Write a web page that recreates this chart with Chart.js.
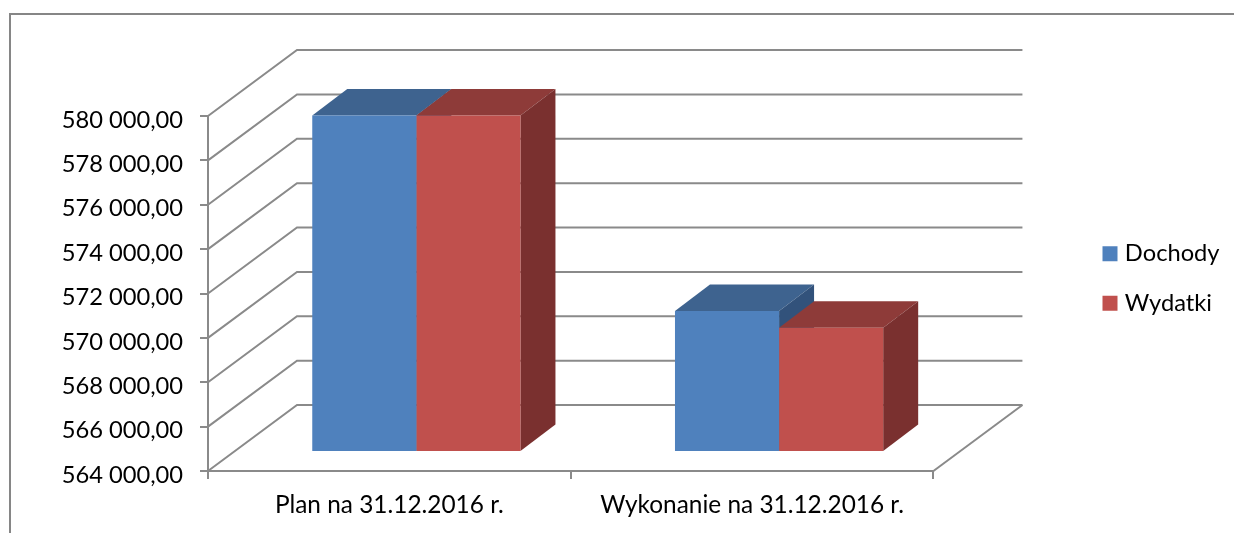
<!DOCTYPE html>
<html>
<head>
<meta charset="utf-8">
<style>
  html, body { margin: 0; padding: 0; background: #fff; }
  #wrap { width: 1234px; height: 533px; }
</style>
<script src="https://cdn.jsdelivr.net/npm/chart.js@4/dist/chart.umd.min.js"></script>
</head>
<body>
<div id="wrap"><canvas id="chart-area" width="1234" height="533"></canvas></div>
<script>
// Dane
var categories = ['Plan na 31.12.2016 r.', 'Wykonanie na 31.12.2016 r.'];
var dochody = [579165, 570350];
var wydatki = [579165, 569600];
var seriesNames = ['Dochody', 'Wydatki'];

var frontColors = ['#4f81bd', '#c0504d'];
var topColors = ['#3e638f', '#8e3b39'];
var sideColors = ['#32527b', '#7a302f'];
var lineColor = '#8a8a8a';

// przesuniecia perspektywy
var wallX = 89, wallY = 66;     // tylna sciana
var barX = 27, barY = 19;       // przednia sciana slupkow
var depthX = 35, depthY = 26.5; // glebokosc slupka

function face(ctx, color, pts) {
  ctx.fillStyle = color;
  ctx.beginPath();
  ctx.moveTo(pts[0][0], pts[0][1]);
  for (var i = 1; i < pts.length; i++) ctx.lineTo(pts[i][0], pts[i][1]);
  ctx.closePath();
  ctx.fill();
}

var frame3d = {
  id: 'frame3d',
  beforeDraw: function(chart) {
    var ctx = chart.ctx;
    ctx.save();
    ctx.strokeStyle = '#868686';
    ctx.lineWidth = 2;
    ctx.beginPath();
    ctx.moveTo(10, 533);
    ctx.lineTo(10, 14);
    ctx.lineTo(1234, 14);
    ctx.stroke();
    ctx.restore();
  },
  beforeDatasetsDraw: function(chart) {
    var ctx = chart.ctx, a = chart.chartArea, y = chart.scales.y;
    ctx.save();
    ctx.strokeStyle = lineColor;
    ctx.lineWidth = 2;
    y.ticks.forEach(function(t) {
      var py = y.getPixelForValue(t.value);
      ctx.beginPath();
      ctx.moveTo(a.left, py);
      ctx.lineTo(a.left + wallX, py - wallY);
      ctx.lineTo(a.right + wallX, py - wallY);
      ctx.stroke();
    });
    ctx.beginPath();
    ctx.moveTo(a.right, a.bottom);
    ctx.lineTo(a.right + wallX, a.bottom - wallY);
    ctx.stroke();
    ctx.restore();

    // gorne i boczne sciany slupkow, przod rysuje biblioteka
    ctx.save();
    ctx.translate(barX, -barY);
    chart.data.datasets.forEach(function(ds, i) {
      chart.getDatasetMeta(i).data.forEach(function(bar) {
        var l = bar.x - bar.width / 2, r = bar.x + bar.width / 2;
        face(ctx, topColors[i], [[l, bar.y], [r, bar.y], [r + depthX, bar.y - depthY], [l + depthX, bar.y - depthY]]);
        face(ctx, sideColors[i], [[r, bar.y], [r + depthX, bar.y - depthY], [r + depthX, bar.base - depthY], [r, bar.base]]);
      });
    });
    ctx.restore();

    ctx.save();
    ctx.translate(barX, -barY);
  },
  afterDatasetsDraw: function(chart) {
    chart.ctx.restore();
  },
  afterLayout: function(chart) {
    // legenda przesunieta na prawo od tylnej sciany
    var lg = chart.legend;
    var w = lg.right - lg.left, h = lg.bottom - lg.top;
    lg.left = 1081;
    lg.right = 1081 + w;
    lg.top = 70;
    lg.bottom = 70 + h;
  }
};

var font = { family: 'Lato', size: 23.7 };
var xFont = { family: 'Lato', size: 24.4 };

var config = {
  type: 'bar',
  data: {
    labels: categories,
    datasets: [
      { label: seriesNames[0], data: dochody, base: 564000, backgroundColor: frontColors[0], borderWidth: 0, clip: false },
      { label: seriesNames[1], data: wydatki, base: 564000, backgroundColor: frontColors[1], borderWidth: 0, clip: false }
    ]
  },
  options: {
    responsive: false,
    animation: false,
    layout: { padding: { top: 116, right: 152, bottom: 0, left: 0 } },
    datasets: { bar: { categoryPercentage: 0.574, barPercentage: 1 } },
    scales: {
      x: {
        afterFit: function(s) { s.height = 62; },
        grid: { drawOnChartArea: false, color: lineColor, lineWidth: 2, tickLength: 8 },
        border: { color: lineColor, width: 2 },
        ticks: { color: '#000', font: xFont, padding: 12, maxRotation: 0 }
      },
      y: {
        min: 564000,
        max: 580000,
        afterFit: function(s) { s.width = 208; },
        grid: { drawOnChartArea: false, color: lineColor, lineWidth: 2, tickLength: 8 },
        border: { color: lineColor, width: 2 },
        ticks: {
          stepSize: 2000,
          color: '#000',
          font: font,
          padding: 17,
          labelOffset: 4,
          callback: function(v) {
            return Math.floor(v / 1000) + ' ' + ('00' + (v % 1000)).slice(-3) + ',00';
          }
        }
      }
    },
    plugins: {
      tooltip: { enabled: false },
      title: { display: false },
      legend: {
        position: 'right',
        labels: {
          usePointStyle: true,
          pointStyle: 'rect',
          boxWidth: 6,
          boxHeight: 15,
          padding: 26,
          color: '#000',
          font: font
        }
      }
    }
  },
  plugins: [frame3d]
};

window.myBar = new Chart(document.getElementById('chart-area').getContext('2d'), config);
</script>
</body>
</html>
